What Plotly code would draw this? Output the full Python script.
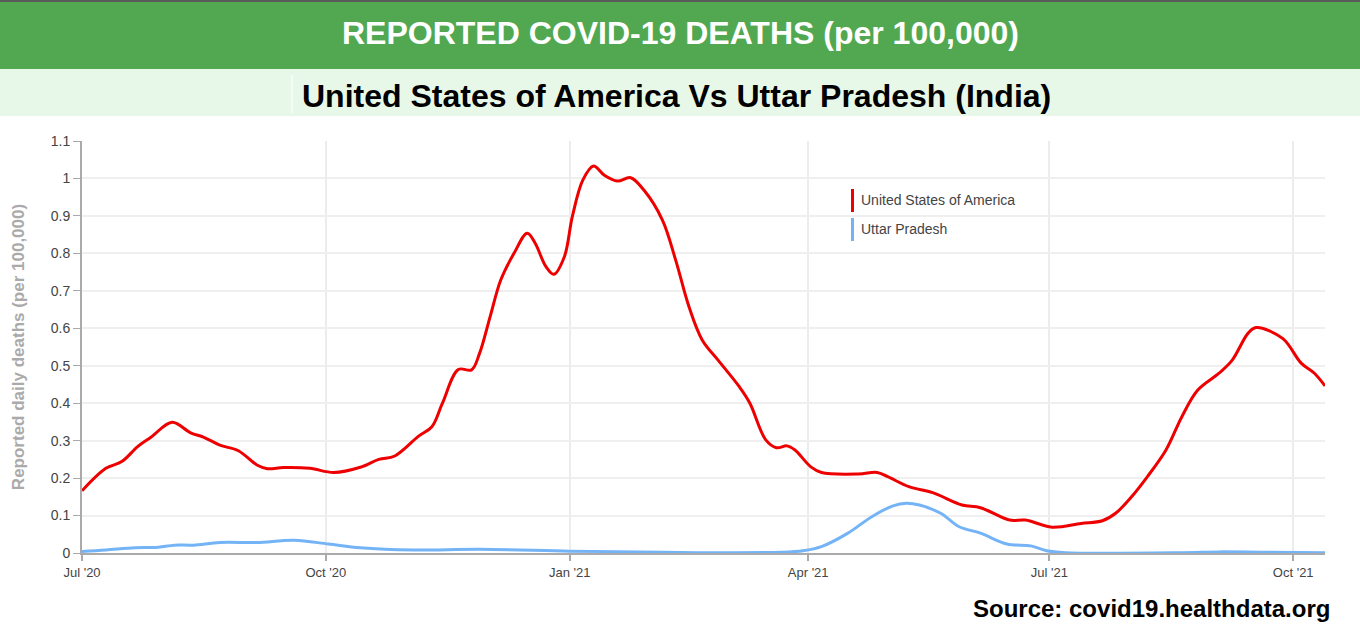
import plotly.graph_objects as go

us_dates = ["2020-07-01","2020-07-10","2020-07-16","2020-07-22","2020-07-27","2020-08-04","2020-08-11",
            "2020-08-16","2020-08-22","2020-08-29","2020-09-05","2020-09-09","2020-09-15","2020-09-25",
            "2020-10-04","2020-10-14","2020-10-21","2020-10-27","2020-11-05","2020-11-10","2020-11-14",
            "2020-11-20","2020-11-25","2020-11-28","2020-12-02","2020-12-06","2020-12-11","2020-12-16",
            "2020-12-19","2020-12-23","2020-12-26","2020-12-30","2021-01-02","2021-01-06","2021-01-10",
            "2021-01-14","2021-01-19","2021-01-24","2021-01-29","2021-02-05","2021-02-10","2021-02-15",
            "2021-02-20","2021-02-26","2021-03-06","2021-03-10","2021-03-16","2021-03-20","2021-03-24",
            "2021-03-27","2021-04-02","2021-04-06","2021-04-20","2021-04-27","2021-05-01","2021-05-09",
            "2021-05-18","2021-05-29","2021-06-05","2021-06-16","2021-06-22","2021-07-02","2021-07-13",
            "2021-07-21","2021-07-26","2021-08-01","2021-08-07","2021-08-14","2021-08-20","2021-08-26",
            "2021-09-03","2021-09-08","2021-09-14","2021-09-17","2021-09-27","2021-10-04","2021-10-09",
            "2021-10-13"]
us_values = [0.166,0.226,0.244,0.284,0.309,0.349,0.321,
             0.309,0.288,0.273,0.235,0.225,0.228,0.226,
             0.215,0.229,0.250,0.259,0.312,0.337,0.400,
             0.490,0.489,0.533,0.631,0.729,0.800,0.854,
             0.827,0.765,0.744,0.791,0.898,0.996,1.033,
             1.009,0.993,1.002,0.969,0.889,0.782,0.658,
             0.569,0.515,0.444,0.400,0.302,0.281,0.286,
             0.275,0.230,0.215,0.211,0.215,0.204,0.177,
             0.161,0.128,0.121,0.088,0.088,0.069,0.079,
             0.086,0.106,0.150,0.204,0.275,0.364,0.435,
             0.480,0.515,0.587,0.602,0.573,0.507,0.480,
             0.446]

up_dates = ["2020-07-01","2020-07-10","2020-07-21","2020-07-29","2020-08-05","2020-08-12","2020-08-22",
            "2020-09-05","2020-09-19","2020-10-02","2020-10-14","2020-11-03","2020-11-28","2021-01-01",
            "2021-01-27","2021-02-18","2021-03-22","2021-03-30","2021-04-06","2021-04-16","2021-04-25",
            "2021-05-03","2021-05-08","2021-05-13","2021-05-21","2021-05-28","2021-06-05","2021-06-15",
            "2021-06-24","2021-06-30","2021-07-07","2021-08-20","2021-09-03","2021-09-20","2021-10-13"]
up_values = [0.004,0.008,0.014,0.015,0.021,0.021,0.028,
             0.028,0.034,0.024,0.014,0.008,0.010,0.005,
             0.003,0.001,0.002,0.006,0.017,0.053,0.097,
             0.126,0.133,0.128,0.106,0.070,0.053,0.024,
             0.019,0.006,0.001,0.001,0.003,0.002,0.001]

tick_dates = ["2020-07-01","2020-10-01","2021-01-01","2021-04-01","2021-07-01","2021-10-01"]
tick_labels = ["Jul '20","Oct '20","Jan '21","Apr '21","Jul '21","Oct '21"]
y_ticks = [0,0.1,0.2,0.3,0.4,0.5,0.6,0.7,0.8,0.9,1,1.1]

series_names = ["United States of America", "Uttar Pradesh"]
series_colors = ["#ee0000", "#74b4f6"]

FONT = "Liberation Sans, Arial, sans-serif"
W, H = 1360, 632
ML, MR, MT, MB = 82, 35, 141, 79
PW, PH = W - ML - MR, H - MT - MB

def px_x(px):
    return (px - ML) / PW

def px_y(py):
    return (H - MB - py) / PH

fig = go.Figure()
fig.add_trace(go.Scatter(x=up_dates, y=up_values, mode="lines", name=series_names[1],
                         line=dict(color=series_colors[1], width=3, shape="spline", smoothing=1.0),
                         showlegend=False))
fig.add_trace(go.Scatter(x=us_dates, y=us_values, mode="lines", name=series_names[0],
                         line=dict(color=series_colors[0], width=3, shape="spline", smoothing=1.0),
                         showlegend=False))

shapes = [
    dict(type="rect", xref="paper", yref="paper", x0=px_x(0), x1=px_x(W), y0=px_y(2), y1=px_y(0),
         fillcolor="#5a5a5a", line=dict(width=0), layer="below"),
    dict(type="rect", xref="paper", yref="paper", x0=px_x(0), x1=px_x(W), y0=px_y(69), y1=px_y(2),
         fillcolor="#51a851", line=dict(width=0), layer="below"),
    dict(type="rect", xref="paper", yref="paper", x0=px_x(0), x1=px_x(W), y0=px_y(116), y1=px_y(69),
         fillcolor="#e8f8e8", line=dict(width=0), layer="below"),
    dict(type="line", xref="paper", yref="paper", x0=px_x(292), x1=px_x(292), y0=px_y(113), y1=px_y(75),
         line=dict(color="#ffffff", width=1)),
]
# legend bars
shapes.append(dict(type="rect", xref="paper", yref="paper", x0=px_x(851), x1=px_x(854),
                   y0=px_y(212), y1=px_y(189), fillcolor=series_colors[0], line=dict(width=0)))
shapes.append(dict(type="rect", xref="paper", yref="paper", x0=px_x(851), x1=px_x(854),
                   y0=px_y(241), y1=px_y(218), fillcolor=series_colors[1], line=dict(width=0)))

annotations = [
    dict(text="<b>REPORTED COVID-19 DEATHS (per 100,000)</b>", xref="paper", yref="paper",
         x=px_x(680), y=px_y(33), xanchor="center", yanchor="middle", showarrow=False,
         font=dict(family=FONT, size=32, color="#ffffff")),
    dict(text="<b>United States of America Vs Uttar Pradesh (India)</b>", xref="paper", yref="paper",
         x=px_x(676), y=px_y(96), xanchor="center", yanchor="middle", showarrow=False,
         font=dict(family=FONT, size=32, color="#000000")),
    dict(text="<b>Source: covid19.healthdata.org</b>", xref="paper", yref="paper",
         x=px_x(1332), y=px_y(608), xanchor="right", yanchor="middle", showarrow=False,
         font=dict(family=FONT, size=24, color="#000000")),
    dict(text=series_names[0], xref="paper", yref="paper", x=px_x(859), y=px_y(200),
         xanchor="left", yanchor="middle", showarrow=False,
         font=dict(family=FONT, size=14, color="#444444")),
    dict(text=series_names[1], xref="paper", yref="paper", x=px_x(859), y=px_y(229),
         xanchor="left", yanchor="middle", showarrow=False,
         font=dict(family=FONT, size=14, color="#444444")),
]

fig.update_layout(
    width=W, height=H,
    margin=dict(l=ML, r=MR, t=MT, b=MB, pad=0),
    paper_bgcolor="#ffffff", plot_bgcolor="#ffffff",
    font=dict(family=FONT, size=13, color="#444444"),
    shapes=shapes, annotations=annotations,
    xaxis=dict(type="date", range=["2020-07-01", "2021-10-13"],
               tickvals=tick_dates, ticktext=tick_labels,
               showgrid=True, gridcolor="#ececec", gridwidth=2,
               showline=True, linecolor="#aaaaaa", linewidth=2,
               ticks="outside", ticklen=6, tickcolor="#aaaaaa", tickwidth=2,
               tickfont=dict(family=FONT, size=13, color="#444444"),
               zeroline=False, fixedrange=True),
    yaxis=dict(range=[0, 1.1], tickvals=y_ticks,
               showgrid=True, gridcolor="#efefef", gridwidth=2,
               showline=True, linecolor="#aaaaaa", linewidth=2,
               ticks="outside", ticklen=7, tickcolor="#aaaaaa", tickwidth=1,
               tickfont=dict(family=FONT, size=14, color="#444444"),
               zeroline=False, fixedrange=True,
               title=dict(text="<b>Reported daily deaths (per 100,000)</b>", standoff=22,
                          font=dict(family=FONT, size=17, color="#aaaaaa"))),
)

fig.write_html("out.html", config={"displayModeBar": False},
               post_script="document.body.style.margin='0';document.body.style.overflow='hidden';")
